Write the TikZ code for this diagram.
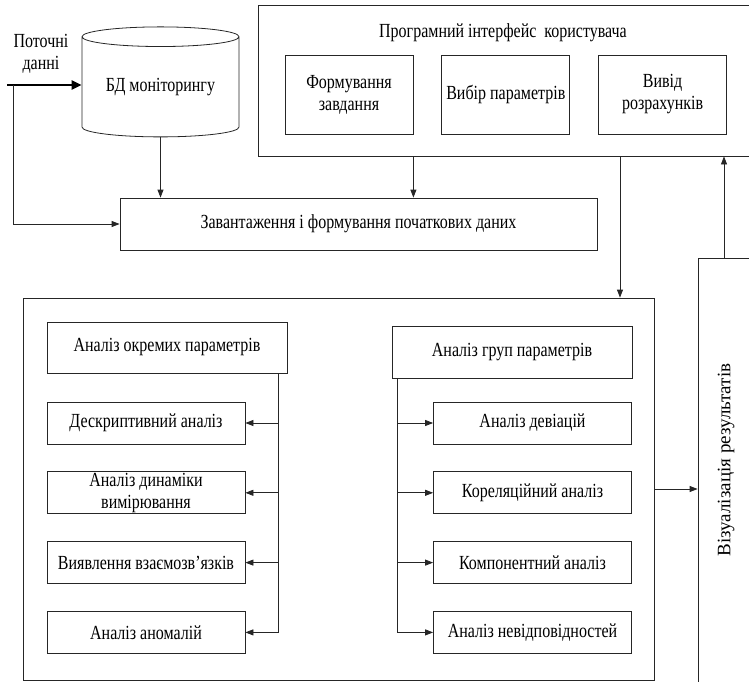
\documentclass[tikz,border=0pt]{standalone}
\usepackage{fontspec}
\setmainfont{Liberation Serif}[FakeStretch=0.8]
\newfontfamily\visfont{Liberation Serif}
\usetikzlibrary{shapes.geometric,arrows.meta,positioning,calc}

\begin{document}
\begin{tikzpicture}[
    x=1pt, y=-1pt,
    font=\fontsize{20}{22}\selectfont,
    box/.style={rectangle, draw=black!85, fill=white, line width=0.8pt, align=center, inner sep=0pt},
    subbox/.style={box, minimum width=128pt, minimum height=79pt},
    leaf/.style={box, minimum width=198pt, minimum height=42pt},
    store/.style={cylinder, draw=black!85, fill=white, line width=0.8pt, shape border rotate=90, aspect=0.18, inner sep=0pt},
    arrow/.style={-{Triangle[length=8pt,width=6pt]}, line width=0.8pt, draw=black!85},
    feed/.style={-{Triangle[length=10pt,width=9pt]}, line width=2.6pt}
]
\useasboundingbox (0,0) rectangle (749,682);
\clip (0,0) rectangle (749,682);

% input data
\node[store, minimum width=157pt, minimum height=110pt] (db) at (160.5,87) {БД моніторингу};
\node[align=center] (cur) at (41,54) {Поточні\\данні};
\coordinate (src) at (7,85);
\coordinate (tap) at (13,85);

% user interface
\node[box, minimum width=504pt, minimum height=151pt] (ui) at (510,80.5) {};
\node (uititle) at (503,33) {Програмний інтерфейс\ \ користувача};
\node[subbox] (task) at (349,94.5) {Формування\\завдання};
\node[subbox, right=28pt of task] (param) {Вибір параметрів};
\node[subbox, right=28pt of param] (out) {Вивід\\розрахунків};
\coordinate (uiout) at (620,0);

\node[box, minimum width=477pt, minimum height=52pt] (load) at (358.5,224) {Завантаження і формування початкових даних};

% analysis block
\node[box, minimum width=631pt, minimum height=382pt] (main) at (338.5,489) {};
\node[box, minimum width=240pt, minimum height=51pt] (single) at (167,347.5) {Аналіз окремих параметрів};
\node[leaf] (desc) at (146,423) {Дескриптивний аналіз};
\node[leaf, below=27pt of desc] (dyn) {Аналіз динаміки\\вимірювання};
\node[leaf, below=27pt of dyn] (rel) {Виявлення взаємозв’язків};
\node[leaf, below=27pt of rel] (anom) {Аналіз аномалій};

\node[box, minimum width=240pt, minimum height=52pt] (grp) at (512,352) {Аналіз груп параметрів};
\node[leaf] (dev) at (532.5,423) {Аналіз девіацій};
\node[leaf, below=27pt of dev] (corr) {Кореляційний аналіз};
\node[leaf, below=27pt of corr] (comp) {Компонентний аналіз};
\node[leaf, below=27pt of comp] (mis) {Аналіз невідповідностей};

\coordinate (lbus) at ($(single.south east)+(-9,0)$);
\coordinate (rbus) at ($(grp.south west)+(6,0)$);

% output
\node[box, minimum width=52pt, minimum height=442pt] (vis) at (724,479) {};
\node[rotate=90, font=\visfont\fontsize{19}{22}\selectfont] (vistxt) at (726,460) {Візуалізація результатів};

% connectors
\draw[feed] (src) -- (db.west |- src);
\draw[arrow] (tap) |- (load.west);
\draw[arrow] (db.south) -- (db.south |- load.north);
\draw[arrow] (ui.south -| task.east) -- (task.east |- load.north);
\draw[arrow] (uiout |- ui.south) -- (uiout |- main.north);

\draw[arrow] (lbus) |- (anom.east);
\foreach \n in {desc,dyn,rel}
    \draw[arrow] (lbus |- \n.east) -- (\n.east);
\draw[arrow] (rbus) |- (mis.west);
\foreach \n in {dev,corr,comp}
    \draw[arrow] (rbus |- \n.west) -- (\n.west);

\draw[arrow] (main.east) -- (main.east -| vis.west);
\draw[arrow] (vis.north) -- (vis.north |- ui.south);

\end{tikzpicture}
\end{document}
